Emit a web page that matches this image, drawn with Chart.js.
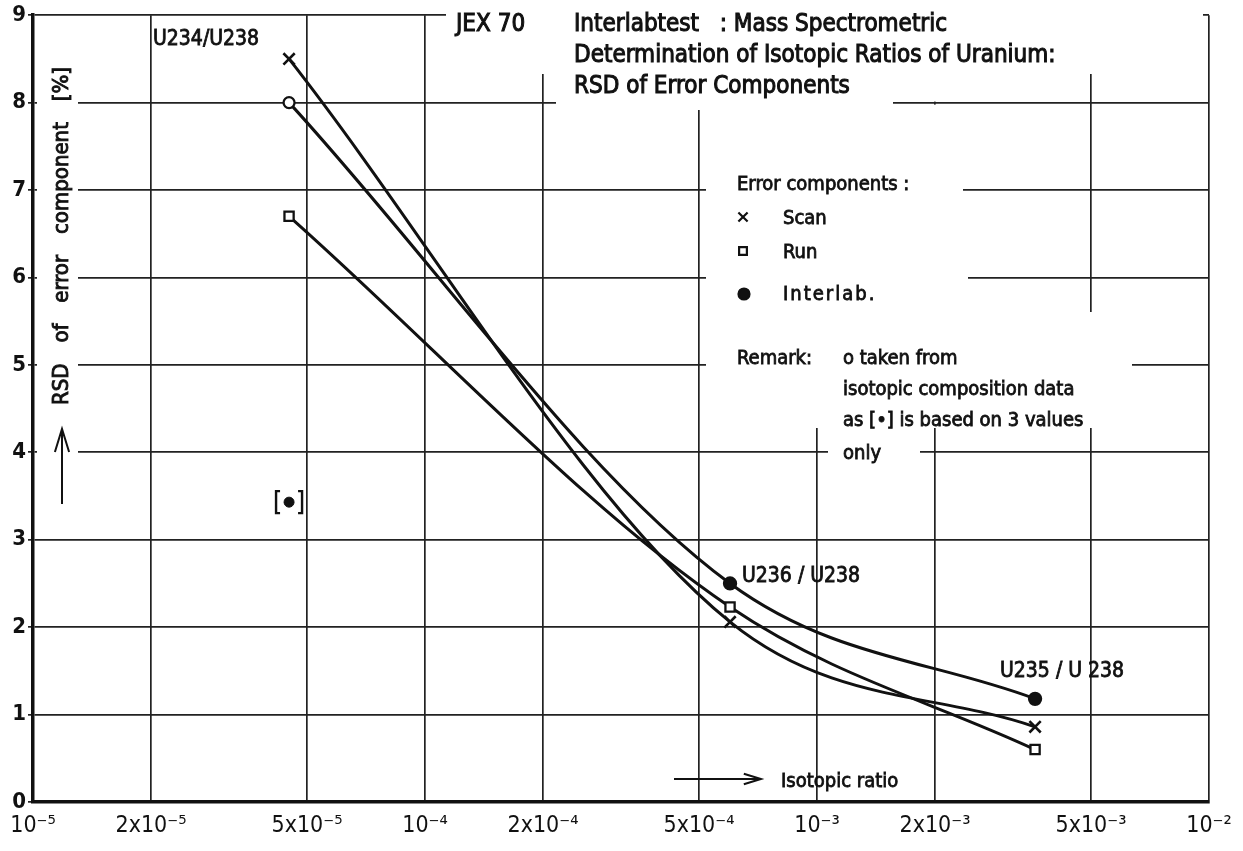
<!DOCTYPE html>
<html>
<head>
<meta charset="utf-8">
<title>JEX 70 Interlabtest - RSD of error components</title>
<script src="https://cdn.jsdelivr.net/npm/chart.js@4.4.1/dist/chart.umd.min.js"></script>
<style>
  html, body { margin: 0; padding: 0; background: #fff; }
  #wrap { width: 1243px; height: 851px; position: relative; }
</style>
</head>
<body>
<div id="wrap"><canvas id="rsd"></canvas></div>
<script>
// isotope ratio pairs and where they sit on the ratio axis
var ratioNames = ['U234/U238', 'U236 / U238', 'U235 / U 238'];
var isotopicRatio = [4.5e-5, 6.0e-4, 3.6e-3];

// RSD of each error component, in %
var rsdScan = [8.5, 2.06, 0.86];
var rsdRun = [6.7, 2.23, 0.6];
var rsdInterlab = [8.0, 2.5, 1.18];

// U234/U238 interlab value that rests on 3 values only -> drawn as [●]
var rsdInterlabFew = [3.43];

var xTicks = [1e-5, 2e-5, 5e-5, 1e-4, 2e-4, 5e-4, 1e-3, 2e-3, 5e-3, 1e-2];
var xTickText = ['10⁻⁵', '2x10⁻⁵', '5x10⁻⁵', '10⁻⁴', '2x10⁻⁴', '5x10⁻⁴', '10⁻³', '2x10⁻³', '5x10⁻³', '10⁻²'];
var yTicks = [0, 1, 2, 3, 4, 5, 6, 7, 8, 9];

var FONT = '"DejaVu Sans Condensed", "DejaVu Sans", sans-serif';
var INK = '#111';

function points(values) {
  return values.map(function (v, i) { return { x: isotopicRatio[i], y: v }; });
}

// white patches behind the lettering, the plot grid is broken there
var patches = [
  [446, 0, 1203, 74],       // title, first two lines
  [556, 74, 893, 110],      // title, third line
  [706, 74, 963, 101.6],    // above the key (y=8 line left open)
  [706, 104.6, 963, 206],
  [706, 206, 968, 312],     // key entries
  [706, 312, 1132, 428],    // remark
  [828, 428, 920, 466],     // "only"
  [37, 58, 78, 512]         // y axis title + arrow
];

function say(ctx, text, x, y, size, opts) {
  opts = opts || {};
  ctx.font = (opts.weight || 'normal') + ' ' + size + 'px ' + FONT;
  ctx.textAlign = opts.align || 'left';
  ctx.textBaseline = opts.baseline || 'alphabetic';
  ctx.letterSpacing = opts.spacing || '0px';
  ctx.fillStyle = INK;
  ctx.strokeStyle = INK;
  ctx.lineWidth = opts.pen || 0.8;
  ctx.fillText(text, x, y);
  ctx.strokeText(text, x, y);
  ctx.letterSpacing = '0px';
}

function arrowLine(ctx, x0, y0, x1, y1, head) {
  var a = Math.atan2(y1 - y0, x1 - x0);
  ctx.beginPath();
  ctx.moveTo(x0, y0);
  ctx.lineTo(x1, y1);
  ctx.moveTo(x1 - head * Math.cos(a - 0.3), y1 - head * Math.sin(a - 0.3));
  ctx.lineTo(x1, y1);
  ctx.lineTo(x1 - head * Math.cos(a + 0.3), y1 - head * Math.sin(a + 0.3));
  ctx.stroke();
}

var annotations = {
  id: 'annotations',
  beforeDatasetsDraw: function (chart) {
    var ctx = chart.ctx;
    ctx.save();
    ctx.fillStyle = '#fff';
    patches.forEach(function (r) { ctx.fillRect(r[0], r[1], r[2] - r[0], r[3] - r[1]); });

    // title block
    say(ctx, 'JEX 70', 456, 31, 24, { pen: 1 });
    say(ctx, 'Interlabtest   : Mass Spectrometric', 574, 31, 24, { pen: 1 });
    say(ctx, 'Determination of Isotopic Ratios of Uranium:', 574, 62, 24, { pen: 1 });
    say(ctx, 'RSD of Error Components', 574, 93, 24, { pen: 1 });

    // key
    say(ctx, 'Error components :', 737, 190, 20);
    ctx.lineWidth = 2.2;
    ctx.strokeStyle = INK;
    ctx.fillStyle = '#fff';
    Chart.helpers.drawPoint(ctx, { pointStyle: 'crossRot', radius: 6.5, borderWidth: 2.2 }, 743, 217);
    Chart.helpers.drawPoint(ctx, { pointStyle: 'rect', radius: 5.5, borderWidth: 2.2 }, 743, 251);
    ctx.fillStyle = INK;
    Chart.helpers.drawPoint(ctx, { pointStyle: 'circle', radius: 5.5, borderWidth: 1 }, 744, 294);
    say(ctx, 'Scan', 783, 224, 20);
    say(ctx, 'Run', 783, 258, 20);
    say(ctx, 'Interlab.', 783, 300, 20, { spacing: '2px' });
    say(ctx, 'Remark:', 737, 364, 20);
    say(ctx, 'o taken from', 843, 364, 20);
    say(ctx, 'isotopic composition data', 843, 395, 20);
    say(ctx, 'as [•] is based on 3 values', 843, 426, 20);
    say(ctx, 'only', 843, 459, 20);

    // ratio labels next to their points
    say(ctx, ratioNames[0], 153, 45, 21);
    say(ctx, ratioNames[1], 742, 582, 21);
    say(ctx, ratioNames[2], 1000, 677, 21);

    // y axis title, rotated, words spread out
    ctx.save();
    ctx.translate(62, 236);
    ctx.rotate(-Math.PI / 2);
    var ytitle = 'RSD of error component [%]';
    ctx.font = '22px ' + FONT;
    var natural = ctx.measureText(ytitle).width;
    ctx.wordSpacing = Math.max(0, (338 - natural) / 4) + 'px';
    say(ctx, ytitle, 0, 0, 22, { align: 'center', baseline: 'middle', pen: 0.9 });
    ctx.wordSpacing = '0px';
    ctx.restore();

    ctx.strokeStyle = INK;
    ctx.lineWidth = 2;
    arrowLine(ctx, 62, 504, 62, 429, 24);

    // x axis title
    arrowLine(ctx, 674, 779, 761, 779, 18);
    say(ctx, 'Isotopic ratio', 781, 787, 20);

    ctx.restore();
  },
  afterDatasetsDraw: function (chart) {
    // brackets round the few-values interlab point
    var el = chart.getDatasetMeta(3).data[0];
    var ctx = chart.ctx;
    ctx.save();
    ctx.strokeStyle = INK;
    ctx.lineWidth = 2.4;
    var h = 11, dx = 13, s = 4;
    ctx.beginPath();
    ctx.moveTo(el.x - dx + s, el.y - h);
    ctx.lineTo(el.x - dx, el.y - h);
    ctx.lineTo(el.x - dx, el.y + h);
    ctx.lineTo(el.x - dx + s, el.y + h);
    ctx.moveTo(el.x + dx - s, el.y - h);
    ctx.lineTo(el.x + dx, el.y - h);
    ctx.lineTo(el.x + dx, el.y + h);
    ctx.lineTo(el.x + dx - s, el.y + h);
    ctx.stroke();
    ctx.restore();
  }
};

var curve = {
  showLine: true,
  borderColor: INK,
  borderWidth: 3,
  cubicInterpolationMode: 'monotone',
  pointBorderColor: INK,
  pointBorderWidth: 2.3
};

var chart = new Chart(document.getElementById('rsd'), {
  type: 'scatter',
  data: {
    datasets: [
      Object.assign({}, curve, {
        label: 'Scan',
        data: points(rsdScan),
        pointStyle: 'crossRot',
        pointRadius: 8,
        pointBorderWidth: 2.6
      }),
      Object.assign({}, curve, {
        label: 'Run',
        data: points(rsdRun),
        pointStyle: 'rect',
        pointRadius: 6.5,
        pointBackgroundColor: '#fff'
      }),
      Object.assign({}, curve, {
        label: 'Interlab.',
        data: points(rsdInterlab),
        pointStyle: 'circle',
        pointRadius: [5.5, 6, 6],
        pointBackgroundColor: ['#fff', INK, INK]
      }),
      {
        label: 'Interlab. (3 values)',
        data: [{ x: isotopicRatio[0], y: rsdInterlabFew[0] }],
        showLine: false,
        pointStyle: 'circle',
        pointRadius: 5,
        pointBackgroundColor: INK,
        pointBorderColor: INK,
        pointBorderWidth: 1
      }
    ]
  },
  options: {
    responsive: true,
    maintainAspectRatio: false,
    animation: false,
    devicePixelRatio: 1,
    layout: { padding: { top: 15, right: 34, left: 0, bottom: 0 } },
    plugins: {
      legend: { display: false },
      tooltip: { enabled: false }
    },
    scales: {
      x: {
        type: 'logarithmic',
        min: 1e-5,
        max: 1e-2,
        afterBuildTicks: function (s) { s.ticks = xTicks.map(function (v) { return { value: v }; }); },
        afterFit: function (s) { s.height = 49; },
        ticks: {
          autoSkip: false,
          maxRotation: 0,
          padding: 10,
          color: INK,
          font: { family: FONT, size: 23 },
          callback: function (v) { var i = xTicks.indexOf(v); return i < 0 ? '' : xTickText[i]; }
        },
        grid: { color: '#222', lineWidth: 1.7, drawTicks: false },
        border: { color: INK, width: 3.5 }
      },
      y: {
        type: 'linear',
        min: 0,
        max: 9,
        afterBuildTicks: function (s) { s.ticks = yTicks.map(function (v) { return { value: v }; }); },
        afterFit: function (s) { s.width = 33; },
        ticks: {
          padding: 2,
          color: INK,
          font: { family: FONT, size: 22, weight: 'bold' }
        },
        grid: { color: '#222', lineWidth: 1.7, tickLength: 5 },
        border: { color: INK, width: 3.5 }
      }
    }
  },
  plugins: [annotations]
});
</script>
</body>
</html>
